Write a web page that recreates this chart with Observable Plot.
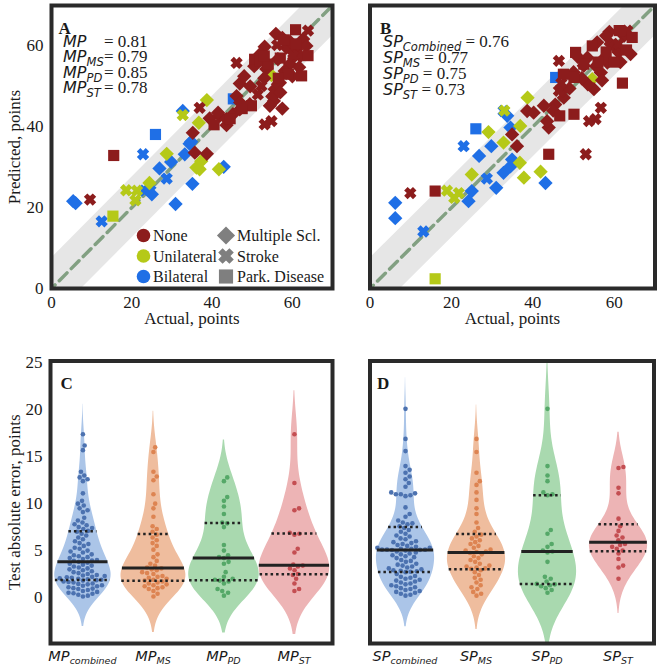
<!DOCTYPE html>
<html><head><meta charset="utf-8">
<script src="https://cdn.jsdelivr.net/npm/d3@7"></script>
<script src="https://cdn.jsdelivr.net/npm/@observablehq/plot@0.6"></script>
<style>
body{margin:0;background:#fff}
#fig{position:relative;width:660px;height:665px;overflow:hidden;background:#fff}
#fig > svg{position:absolute}
#fig svg text{font-family:"Liberation Serif","Times New Roman",serif}
</style></head><body><div id="fig"></div>
<script>
// ---------------- DATA ----------------
const impairLabels = ["None", "Unilateral", "Bilateral"];
const impairCodes = ["N", "U", "B"];
const diseaseLabels = ["Multiple Scl.", "Stroke", "Park. Disease"];

// [actual, predicted, impairment]  — panel A (MP model)
const msA = [
  [5.4,21.6,"B"],[6.0,21.1,"B"],[24.4,24.9,"B"],[25.0,23.3,"B"],[26.9,29.7,"B"],[29.8,31.3,"B"],[33.2,33.2,"B"],
  [34.4,35.8,"B"],[34.8,36.3,"B"],[32.7,43.9,"B"],[35.1,25.9,"B"],[30.9,20.9,"B"],[42.9,30.1,"B"],
  [28.7,33.3,"U"],[36.1,29.9,"U"],[41.7,29.5,"U"],[36.9,29.5,"U"],[37.3,31.5,"U"],[38.7,46.6,"U"],[36.7,41.0,"U"],
  [24.4,26.1,"U"],[54.8,52.8,"U"],
  [38.7,33.3,"N"],[35.7,33.6,"N"],[35.2,38.5,"N"],[39.4,42.1,"N"],[41.9,42.7,"N"],[43.6,40.4,"N"],[45.2,43.1,"N"],
  [46.9,44.3,"N"],[49.4,45.6,"N"],[46.1,47.6,"N"],[46.9,50.7,"N"],[55.4,46.4,"N"],[55.0,47.5,"N"],[55.6,49.3,"N"],
  [55.9,63.0,"N"],[53.1,59.8,"N"],[58.5,59.6,"N"],[61.0,59.2,"N"],[62.7,61.7,"N"],[56.4,56.7,"N"],[59.4,55.5,"N"],
  [61.7,54.7,"N"],[63.5,60.0,"N"],[58.1,53.8,"N"],[58.5,53.4,"N"],[56.9,50.9,"N"],[56.4,50.5,"N"],[53.5,54.3,"N"],
  [55.2,47.6,"N"],[54.4,45.2,"N"],[41.5,43.5,"N"],[43.6,41.9,"N"],[48.0,52.5,"N"],[52.0,58.0,"N"],[60.5,57.5,"N"],
  [57.5,44.5,"N"],[50.5,55.0,"N"],[57.5,62.0,"N"],[59.5,61.0,"N"],[62.0,57.5,"N"],[60.0,52.5,"N"],[57.0,48.5,"N"],
  [53.0,52.0,"N"],[49.5,50.0,"N"],[47.0,46.0,"N"]
];
const stA = [
  [12.5,16.6,"B"],[22.8,33.2,"B"],[28.7,27.2,"B"],[23.2,24.2,"B"],
  [18.6,24.3,"U"],[21.3,24.2,"U"],[20.9,21.8,"U"],[32.7,42.9,"U"],
  [9.6,22.0,"N"],[36.9,44.7,"N"],[46.1,55.8,"N"],[63.9,63.8,"N"],[56.2,60.2,"N"],[54.8,41.4,"N"],[53.1,40.6,"N"],
  [52.3,50.1,"N"],[51.4,48.0,"N"],[60.2,57.6,"N"]
];
const pdA = [
  [15.5,32.9,"N"],[25.9,38.1,"B"],[15.3,17.9,"U"],[45.3,46.9,"B"],[49.8,45.2,"N"],[50.6,56.7,"N"],[52.0,56.3,"N"],
  [63.9,57.6,"N"],[62.3,52.6,"N"],[60.8,64.0,"N"],[47.5,44.5,"N"],[57.0,57.0,"N"],[59.0,53.0,"N"],[54.0,55.5,"N"],
  [61.0,60.5,"N"],[44.5,42.0,"N"],[56.5,52.0,"N"],[53.0,57.5,"N"],[58.0,61.5,"N"],[40.5,40.5,"N"]
];
// panel B (SP model)
const msB = [
  [6.2,21.2,"B"],[6.2,17.4,"B"],[24.2,21.6,"B"],[25.0,24.1,"B"],[26.8,32.8,"B"],[29.8,35.2,"B"],[31.0,24.9,"B"],
  [32.8,28.6,"B"],[34.9,31.9,"B"],[33.7,42.7,"B"],[34.5,39.8,"B"],[43.1,26.1,"B"],[34.5,30.2,"B"],
  [25.0,28.2,"U"],[29.1,38.7,"U"],[32.8,36.1,"U"],[36.9,40.2,"U"],[36.8,31.1,"U"],[37.8,27.4,"U"],[38.7,47.2,"U"],
  [41.9,28.9,"U"],[54.6,51.8,"U"],
  [34.9,38.1,"N"],[36.1,35.2,"N"],[38.6,43.9,"N"],[40.2,43.5,"N"],[43.9,39.8,"N"],[42.7,45.2,"N"],[43.5,41.4,"N"],
  [55.8,60.9,"N"],[59.1,60.5,"N"],[64.0,58.0,"N"],[62.4,62.5,"N"],[58.3,55.9,"N"],[56.7,53.4,"N"],[55.0,49.3,"N"],
  [47.6,47.2,"N"],[47.2,48.9,"N"],[53.4,57.1,"N"],[51.0,57.3,"N"],[52.5,55.1,"N"],[60.0,60.0,"N"],[57.5,57.0,"N"],
  [50.0,53.5,"N"],[61.5,56.0,"N"],[53.5,50.5,"N"],[58.8,63.5,"N"],[45.5,45.5,"N"],[58.0,62.5,"N"],[61.0,58.5,"N"],
  [55.5,55.0,"N"],[52.0,52.0,"N"],[49.0,49.5,"N"],[45.0,44.0,"N"],[57.0,51.5,"N"]
];
const stB = [
  [13.1,14.1,"B"],[23.0,35.2,"B"],[28.7,27.2,"B"],[32.8,43.9,"B"],
  [18.9,24.2,"U"],[21.8,23.6,"U"],[20.7,22.4,"U"],[33.0,44.0,"U"],
  [9.9,23.6,"N"],[53.0,33.2,"N"],[46.4,56.3,"N"],[63.2,63.8,"N"],[55.4,41.9,"N"],[56.7,44.7,"N"],[53.8,41.4,"N"],
  [46.4,48.9,"N"],[47.0,50.8,"N"],[61.0,60.5,"N"]
];
const pdB = [
  [16.0,24.1,"N"],[16.0,2.4,"U"],[26.0,39.5,"B"],[45.6,52.2,"B"],[43.9,33.2,"N"],[46.6,42.7,"N"],[50.1,43.1,"N"],
  [62.0,50.8,"N"],[61.2,63.8,"N"],[50.5,58.4,"N"],[54.6,60.0,"N"],[50.1,52.2,"N"],[64.4,62.1,"N"],[47.5,53.0,"N"],
  [58.0,58.5,"N"],[60.0,56.0,"N"],[63.0,59.0,"N"],[56.0,56.0,"N"],[52.5,55.5,"N"]
];
const statsA = [["MP","",0.81],["MP","MS",0.79],["MP","PD",0.85],["MP","ST",0.78]];
const statsB = [["SP","Combined",0.76],["SP","MS",0.77],["SP","PD",0.75],["SP","ST",0.73]];

// absolute test errors (panels C, D)
const catKeys = ["combined","MS","PD","ST"];
const errMPcombined = [17.4,16.2,15.7,13.4,13.0,12.8,12.6,12.4,11.1,10.3,10.0,9.8,9.5,9.3,9.1,8.5,8.2,8.0,7.8,7.7,7.5,7.4,7.3,
  7.1,7.0,6.8,6.6,6.4,6.2,6.0,5.8,5.7,5.5,5.3,5.2,5.0,4.9,4.8,4.6,4.5,4.4,4.3,4.2,4.1,4.0,3.95,3.9,3.8,
  3.7,3.6,3.5,3.4,3.3,3.2,3.1,3.0,2.9,2.8,2.7,2.6,2.5,2.4,2.35,2.3,2.2,2.15,2.1,2.05,2.0,1.95,1.9,
  1.85,1.8,1.7,1.65,1.6,1.5,1.45,1.4,1.3,1.25,1.2,1.1,1.0,0.95,0.9,0.8,0.7,0.6,0.5,0.45,0.4,0.3,0.2,0.1];
const errMPms = [16.0,15.5,13.4,12.9,12.5,11.0,10.0,9.5,8.6,7.6,7.3,7.0,6.7,6.4,6.1,5.8,5.5,5.1,4.6,4.3,3.9,3.6,3.4,3.2,
  3.1,3.0,2.9,2.7,2.6,2.5,2.3,2.2,2.1,2.0,1.9,1.8,1.7,1.6,1.5,1.4,1.3,1.2,1.1,1.0,0.9,0.7,0.4,0.1];
const errMPpd = [12.8,12.4,10.7,10.3,9.7,8.9,8.0,7.9,7.5,5.6,5.0,4.5,4.3,4.2,3.8,3.6,2.7,2.2,2.0,1.9,1.8,1.7,1.5,0.9,0.7,0.5,0.2];
const errMPst = [17.4,12.2,9.5,9.3,6.9,6.8,6.7,5.2,4.8,3.5,3.4,3.3,3.1,2.9,2.5,2.4,2.0,1.5,0.9,0.7];
const errSPcombined = [20.1,16.9,15.6,14.0,13.6,13.3,12.9,12.6,12.2,11.8,11.2,11.1,11.0,11.0,10.9,10.8,9.6,8.9,8.6,8.2,8.0,7.9,7.8,
  7.6,7.4,7.2,7.0,6.8,6.6,6.5,6.3,6.2,6.0,5.9,5.8,5.7,5.6,5.5,5.4,5.3,5.3,5.2,5.2,5.1,5.1,5.1,5.08,5.07,
  5.0,4.9,4.8,4.7,4.6,4.5,4.4,4.3,4.2,4.0,3.9,3.8,3.6,3.5,3.4,3.3,3.2,3.1,3.0,2.9,2.85,2.8,2.75,
  2.7,2.5,2.3,2.2,2.1,2.0,1.9,1.8,1.7,1.6,1.5,1.4,1.3,1.2,1.1,1.0,0.9,0.8,0.7,0.6,0.5,0.4,0.3,0.2];
const errSPms = [16.9,15.5,13.3,12.4,12.0,11.2,10.4,9.5,8.9,8.0,7.4,7.0,6.7,6.5,6.3,6.1,5.9,5.7,5.5,5.3,5.1,5.0,4.9,4.85,
  4.75,4.6,4.4,4.2,4.0,3.8,3.6,3.4,3.3,3.2,3.1,3.05,2.9,2.7,2.4,2.1,1.9,1.6,1.3,1.1,0.9,0.6,0.4,0.2];
const errSPpd = [20.1,14.0,13.0,12.4,11.2,11.0,10.9,7.2,6.8,5.7,5.4,5.0,4.9,4.8,3.8,2.2,2.0,1.7,1.45,1.4,1.3,1.2,1.0,0.8,0.5];
const errSPst = [13.9,13.8,11.7,11.1,8.4,7.6,7.1,6.6,6.4,6.1,5.7,5.6,5.4,5.2,5.0,4.7,4.1,3.4,3.2,2.0];

// ---------------- STYLE ----------------
const serif = "Liberation Serif, Times New Roman, serif";
const sans = "DejaVu Sans, sans-serif";
const impairColors = ["#8c1c1c", "#b5c918", "#1f6fe6"];
const deep = ["#4c72b0", "#dd8452", "#55a868", "#c44e52"];
const violinFill = ["#abc5e8", "#efbd9e", "#a9d9af", "#edb4b5"];
const bandHalf = 7.5;
const diag = [-10, 80];
const fig = d3.select("#fig");

const symDiamond = {draw(c, s){ const r = Math.sqrt(s)*0.64; c.moveTo(0,-r); c.lineTo(r,0); c.lineTo(0,r); c.lineTo(-r,0); c.closePath(); }};
const symSquare = {draw(c, s){ const h = Math.sqrt(s)/2; c.moveTo(-h,-h); c.lineTo(h,-h); c.lineTo(h,h); c.lineTo(-h,h); c.closePath(); }};
const symX = {draw(c, s){
  const q = Math.sqrt(s), a = q*0.56, t = q*0.22, k = Math.SQRT1_2;
  const p = [[-t,-a],[t,-a],[t,-t],[a,-t],[a,t],[t,t],[t,a],[-t,a],[-t,t],[-a,t],[-a,-t],[-t,-t]]
    .map(([x,y]) => [(x-y)*k, (x+y)*k]);
  c.moveTo(p[0][0], p[0][1]); for (let i = 1; i < p.length; i++) c.lineTo(p[i][0], p[i][1]); c.closePath();
}};
const diseaseSyms = [symDiamond, symX, symSquare];

function place(svgNode, left, top) {
  const s = d3.select(svgNode).style("left", left + "px").style("top", top + "px");
  // tick labels of the library's axes: serif, like the reference
  s.selectAll("g[aria-label^='x-axis'] text, g[aria-label^='y-axis'] text")
    .style("font-family", serif).style("font-size", "17px");
  fig.node().appendChild(svgNode);
  return s;
}

// ---------------- SCATTER PANELS ----------------
function scatter(groups, o) {
  const marks = [
    Plot.areaY(diag, {x: d => d, y1: d => d - bandHalf, y2: d => d + bandHalf, fill: "#e6e6e6", clip: true}),
    Plot.line(diag, {x: d => d, y: d => d, stroke: "#82a082", strokeWidth: 3.5, strokeDasharray: "11,6", clip: true})
  ];
  ["B","U","N"].forEach(code => {
    groups.forEach((g, gi) => {
      const rows = g.filter(r => r[2] === code);
      marks.push(Plot.dot(rows, {x: r => r[0], y: r => r[1], fill: {value: r => r[2], scale: "color"},
        symbol: diseaseSyms[gi], r: 6.3}));
    });
  });
  marks.push(Plot.frame({stroke: "#2a2a2a", strokeWidth: 4}));
  marks.push(Plot.text([o.letter], {text: d => d, frameAnchor: "top-left", dx: o.letterDx, dy: 16, textAnchor: "start",
    fontWeight: "bold", fontSize: 17}));
  marks.push(Plot.text(["Actual, points"], {text: d => d, frameAnchor: "bottom", dy: 35, textAnchor: "middle", fontSize: 17}));
  if (o.yAxis) marks.push(Plot.text(["Predicted, points"], {text: d => d, frameAnchor: "left", dx: -37, rotate: -90,
    textAnchor: "middle", fontSize: 17}));
  return Plot.plot({
    width: o.width, height: 330, marginLeft: o.ml, marginRight: o.mr, marginTop: 5, marginBottom: 42,
    style: {fontFamily: serif, fontSize: "17px", color: "#1a1a1a", background: "transparent", overflow: "visible"},
    x: {domain: [0, 70], ticks: [0,20,40,60], tickSize: 0, tickPadding: 7, label: null},
    y: o.yAxis ? {domain: [0, 70], ticks: [0,20,40,60], tickSize: 0, tickPadding: 8, label: null}
               : {domain: [0, 70], axis: null},
    color: {type: "ordinal", domain: impairCodes, range: impairColors},
    marks
  });
}

function addStats(svg, stats, x0, baselines, eqX) {
  stats.forEach(([m, sub, val], k) => {
    const t = svg.append("text").attr("x", x0).attr("y", baselines[k]).attr("fill", "#1a1a1a").attr("text-anchor", "start");
    t.append("tspan").style("font-family", sans).style("font-style", "italic").style("font-size", "16px").text(m);
    if (sub) t.append("tspan").style("font-family", sans).style("font-style", "italic").style("font-size", "11.5px").attr("dy", 4).text(sub);
    const e = t.append("tspan").style("font-family", serif).style("font-style", "normal").style("font-size", "17px").attr("dy", sub ? -4 : 0)
      .text((eqX ? "" : " ") + "= " + val.toFixed(2));
    if (eqX) e.attr("x", eqX);
  });
}

const plotA = scatter([msA, stA, pdA], {letter: "A", letterDx: 7, width: 338, ml: 51, mr: 6, yAxis: true});
const svgA = place(plotA, 0, 0);
addStats(svgA, statsA, 63, [46.5, 62, 77.5, 93], 104);
// legend
const legY = [235.5, 256, 276.5];
impairLabels.forEach((lab, k) => {
  svgA.append("circle").attr("cx", 143.5).attr("cy", legY[k]).attr("r", 6.8).attr("fill", impairColors[k]);
  svgA.append("text").attr("x", 153).attr("y", legY[k]).attr("dy", "0.35em").attr("text-anchor", "start")
    .style("font-size", "16px").attr("fill", "#1a1a1a").text(lab);
});
diseaseLabels.forEach((lab, k) => {
  svgA.append("path").attr("transform", `translate(226,${legY[k]})`).attr("d", d3.symbol(diseaseSyms[k], 200)()).attr("fill", "#7f7f7f");
  svgA.append("text").attr("x", 237).attr("y", legY[k]).attr("dy", "0.35em").attr("text-anchor", "start")
    .style("font-size", "16px").attr("fill", "#1a1a1a").text(lab);
});

const plotB = scatter([msB, stB, pdB], {letter: "B", letterDx: 10, width: 322, ml: 31.5, mr: 5.5, yAxis: false});
const svgB = place(plotB, 338, 0);
addStats(svgB, statsB, 45, [47, 63, 79, 95], null);

// ---------------- VIOLIN PANELS ----------------
function kde(vals) {
  const n = vals.length, sd = d3.deviation(vals), bw = sd * Math.pow(n, -0.2);
  const lo = d3.min(vals) - 2*bw, hi = d3.max(vals) + 2*bw;
  const dens = y => d3.sum(vals, v => Math.exp(-0.5*((y - v)/bw)**2)) / (n*bw*Math.sqrt(2*Math.PI));
  const pts = d3.range(100).map(k => { const y = lo + (hi - lo)*k/99; return {y, d: dens(y)}; });
  return {pts, dens, max: d3.max(pts, p => p.d)};
}
function swarm(vals, pxX, pxY, r) {
  const sorted = vals.slice().sort((a, b) => a - b);
  const D = 2*r + 0.4, placed = [];
  for (const v of sorted) {
    const py = v * pxY, cands = [0];
    for (const q of placed) {
      const dy = py - q.py;
      if (Math.abs(dy) < D) { const dx = Math.sqrt(D*D - dy*dy); cands.push(q.px + dx, q.px - dx); }
    }
    cands.sort((a, b) => Math.abs(a) - Math.abs(b));
    let chosen = 0;
    for (const c of cands) {
      if (placed.every(q => (q.px - c)**2 + (q.py - py)**2 >= D*D - 1e-6)) { chosen = c; break; }
    }
    placed.push({px: chosen, py, v});
  }
  return placed.map(q => ({off: q.px / pxX, v: q.v}));
}

function violins(groups, o) {
  const width = o.width, height = 335, mt = 30.5, mb = 22;
  const yDom = [-4.9, 25.2];
  const pxX = (width - o.ml - o.mr) / (o.xDom[1] - o.xDom[0]);
  const pxY = (height - mt - mb) / (yDom[1] - yDom[0]);
  const area = [], quart = [], dots = [];
  groups.forEach((vals, i) => {
    const cat = catKeys[i], K = kde(vals), half = o.half[i];
    K.pts.forEach(p => area.push({i, cat, y: p.y, w: p.d / K.max * half}));
    const s = vals.slice().sort(d3.ascending);
    [0.25, 0.5, 0.75].forEach(pq => {
      const y = d3.quantile(s, pq);
      quart.push({i, cat, y, w: K.dens(y) / K.max * half, mid: pq === 0.5});
    });
    swarm(vals, pxX, pxY, 2.3).forEach(d => dots.push({cat, x: i + d.off, v: d.v}));
  });
  const marks = [
    Plot.areaX(area, {y: "y", x1: r => r.i - r.w, x2: r => r.i + r.w, z: "cat", fill: r => violinFill[r.i], clip: true}),
    Plot.dot(dots, {x: "x", y: "v", r: 2.3, fill: "cat"}),
    Plot.ruleY(quart.filter(q => !q.mid), {y: "y", x1: r => r.i - r.w, x2: r => r.i + r.w, stroke: "#222", strokeWidth: 2.5, strokeDasharray: "2.5,3"}),
    Plot.ruleY(quart.filter(q => q.mid), {y: "y", x1: r => r.i - r.w, x2: r => r.i + r.w, stroke: "#222", strokeWidth: 3}),
    Plot.frame({stroke: "#2a2a2a", strokeWidth: 4}),
    Plot.text([o.letter], {text: d => d, frameAnchor: "top-left", dx: o.letterDx, dy: 16, textAnchor: "start", fontWeight: "bold", fontSize: 17})
  ];
  if (o.yAxis) marks.push(Plot.text(["Test absolute error, points"], {text: d => d, frameAnchor: "left", dx: -36, rotate: -90,
    textAnchor: "middle", fontSize: 17}));
  return Plot.plot({
    width, height, marginLeft: o.ml, marginRight: o.mr, marginTop: mt, marginBottom: mb,
    style: {fontFamily: serif, fontSize: "17px", color: "#1a1a1a", background: "transparent", overflow: "visible"},
    x: {domain: o.xDom, axis: null},
    y: o.yAxis ? {domain: yDom, ticks: [0,5,10,15,20,25], tickSize: 0, tickPadding: 8, label: null} : {domain: yDom, axis: null},
    color: {type: "ordinal", domain: catKeys, range: deep},
    marks
  });
}

function addCats(svg, plot, prefix) {
  const xs = plot.scale("x");
  catKeys.forEach((c, i) => {
    const t = svg.append("text").attr("x", xs.apply(i)).attr("y", 331).attr("text-anchor", "middle")
      .style("font-family", sans).style("font-style", "italic").attr("fill", "#1a1a1a");
    t.append("tspan").style("font-size", "14.5px").text(prefix);
    t.append("tspan").style("font-size", "9.5px").attr("dy", 3).text(c);
  });
}

const plotC = violins([errMPcombined, errMPms, errMPpd, errMPst],
  {letter: "C", letterDx: 10, width: 338, ml: 50, mr: 6, xDom: [-0.46, 3.54], half: [0.40, 0.46, 0.50, 0.50], yAxis: true});
const svgC = place(plotC, 0, 330);
addCats(svgC, plotC, "MP");

const plotD = violins([errSPcombined, errSPms, errSPpd, errSPst],
  {letter: "D", letterDx: 7, width: 322, ml: 31.5, mr: 6.5, xDom: [-0.5, 3.5], half: [0.41, 0.41, 0.41, 0.41], yAxis: false});
const svgD = place(plotD, 338, 330);
addCats(svgD, plotD, "SP");
</script></body></html>
